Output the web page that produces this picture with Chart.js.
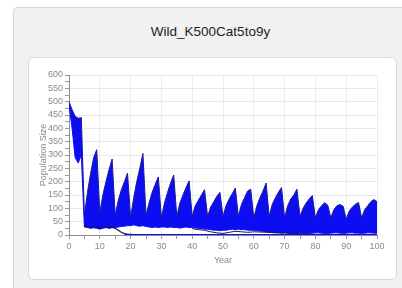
<!DOCTYPE html>
<html>
<head>
<meta charset="utf-8">
<script src="https://cdn.jsdelivr.net/npm/chart.js@4/dist/chart.umd.min.js"></script>
<style>
  html, body { margin:0; padding:0; background:#ffffff; width:402px; height:288px; overflow:hidden; }
  #panel { position:absolute; left:13px; top:7px; width:400px; height:290px; background:#f1f1f1; border:1px solid #d6d6d6; border-radius:4px; box-sizing:border-box; }
  #title { position:absolute; left:13px; top:23px; width:395px; text-align:center; font-family:"Liberation Sans", Arial, sans-serif; font-size:13.5px; color:#1e1e1e; line-height:18px; }
  #card { position:absolute; left:28px; top:57px; width:369px; height:223px; background:#ffffff; border:1px solid #dadada; border-radius:6px; box-sizing:border-box; }
  #c { position:absolute; left:0; top:0; }
</style>
</head>
<body>
<div id="panel"></div>
<div id="title">Wild_K500Cat5to9y</div>
<div id="card"></div>
<canvas id="c" width="402" height="288"></canvas>
<script>
// ---- data ----
const years = [0,1,2,3,4,5,6,7,8,9,10,11,12,13,14,15,16,17,18,19,20,21,22,23,24,25,26,27,28,29,30,31,32,33,34,35,36,37,38,39,40,41,42,43,44,45,46,47,48,49,50,51,52,53,54,55,56,57,58,59,60,61,62,63,64,65,66,67,68,69,70,71,72,73,74,75,76,77,78,79,80,81,82,83,84,85,86,87,88,89,90,91,92,93,94,95,96,97,98,99,100];

// upper envelope of all simulated runs
const upperRuns = [500,470,445,438,440,75,160,230,290,320,
  85,150,200,245,285,75,130,170,200,232,
  65,140,200,250,306,75,120,160,190,218,
  65,120,160,195,225,70,120,150,178,203,
  70,110,130,150,170,70,105,125,145,160,
  70,110,135,155,176,70,115,140,165,172,
  65,110,140,165,195,70,115,140,160,178,
  65,110,135,150,172,70,100,120,135,148,
  65,95,110,121,112,65,95,110,114,108,
  60,90,105,115,122,65,95,110,125,133,125];

// lower envelope of the bulk of runs
const lowerRuns = [490,400,290,270,300,30,28,25,27,25,
  22,25,28,25,27,28,30,32,33,35,
  35,38,35,33,35,32,30,28,30,28,
  30,30,28,30,28,28,26,28,30,28,
  28,26,25,24,22,22,20,18,18,16,
  18,18,20,22,20,22,20,20,18,18,
  18,16,15,14,12,10,9,8,8,7,
  8,7,6,6,7,8,7,6,6,7,
  8,8,7,6,6,7,8,8,7,6,
  7,8,8,7,7,6,7,8,8,7,7];

// individual runs drawn separately
const extinctYears = [5,6,7,8,9,10,11,12,13,14,15,16,17,18,19,20,21,22,23,24,25];
const extinctRun = [35,30,28,32,30,28,30,30,28,30,25,18,10,5,3,2,1,1,1,1,0];

const lowYears = [40,42,44,46,48,50,52,54,56,58,60,65,70,75,80];
const lowRun = [24,20,18,12,8,6,10,14,12,10,12,10,8,5,2];

const zeroYears = [18,100];
const zeroRun = [0,0];

// axis ticks
const xTickStep = 5;
const xLabelStep = 10;
const yTickStep = 25;
const yLabelStep = 50;

const pts = (xs, ys) => xs.map((x, i) => ({x: x, y: ys[i]}));

const BLUE = '#0d0df2';
const NAVY = '#14145e';
const TICKFONT = {family: '"Liberation Sans", Arial, sans-serif', size: 9};

new Chart(document.getElementById('c'), {
  type: 'line',
  data: {
    datasets: [
      { label: 'upper', data: pts(years, upperRuns), borderColor: '#1b1b9a', borderWidth: 1,
        backgroundColor: BLUE, fill: 1, pointRadius: 0, tension: 0, order: 10 },
      { label: 'lower', data: pts(years, lowerRuns), borderColor: BLUE, borderWidth: 1,
        fill: false, pointRadius: 0, tension: 0, order: 9 },
      { label: 'extinct', data: pts(extinctYears, extinctRun), borderColor: NAVY, borderWidth: 1.2,
        fill: false, pointRadius: 0, tension: 0, order: 2 },
      { label: 'low', data: pts(lowYears, lowRun), borderColor: NAVY, borderWidth: 1,
        fill: false, pointRadius: 0, tension: 0, order: 2 },
      { label: 'zero', data: pts(zeroYears, zeroRun), borderColor: BLUE, borderWidth: 2,
        fill: false, pointRadius: 0, tension: 0, order: 1 }
    ]
  },
  options: {
    responsive: false,
    animation: false,
    devicePixelRatio: 1,
    layout: { padding: { left: 38, right: 25, top: 75, bottom: 22 } },
    plugins: { legend: { display: false }, tooltip: { enabled: false } },
    scales: {
      x: {
        type: 'linear', min: 0, max: 100,
        afterFit: (s) => { s.height = 31; },
        ticks: { stepSize: xTickStep, autoSkip: false, maxRotation: 0, color: '#8a8a8a', font: TICKFONT, padding: 2,
          callback: (v) => (v % xLabelStep === 0 ? v : '') },
        grid: { color: (ctx) => (ctx.tick && ctx.tick.value % xLabelStep === 0 && ctx.tick.value !== 0 ? '#ededed' : 'rgba(0,0,0,0)'),
          tickColor: '#9a9a9a', tickLength: 4, lineWidth: 1 },
        border: { color: '#8c8c8c', width: 1 },
        title: { display: true, text: 'Year', color: '#8a8a8a', font: TICKFONT, padding: 0 }
      },
      y: {
        min: 0, max: 600,
        afterFit: (s) => { s.width = 31; },
        ticks: { stepSize: yTickStep, autoSkip: false, color: '#8a8a8a', font: TICKFONT, padding: 2,
          callback: (v) => (v % yLabelStep === 0 ? v : '') },
        grid: { color: (ctx) => (ctx.tick && ctx.tick.value % yLabelStep === 0 && ctx.tick.value !== 0 ? '#e9e9e9' : 'rgba(0,0,0,0)'),
          tickColor: '#9a9a9a', tickLength: 4, lineWidth: 1 },
        border: { color: '#8c8c8c', width: 1 },
        title: { display: true, text: 'Population Size', color: '#8a8a8a', font: TICKFONT, padding: 0 }
      }
    }
  }
});
</script>
</body>
</html>
